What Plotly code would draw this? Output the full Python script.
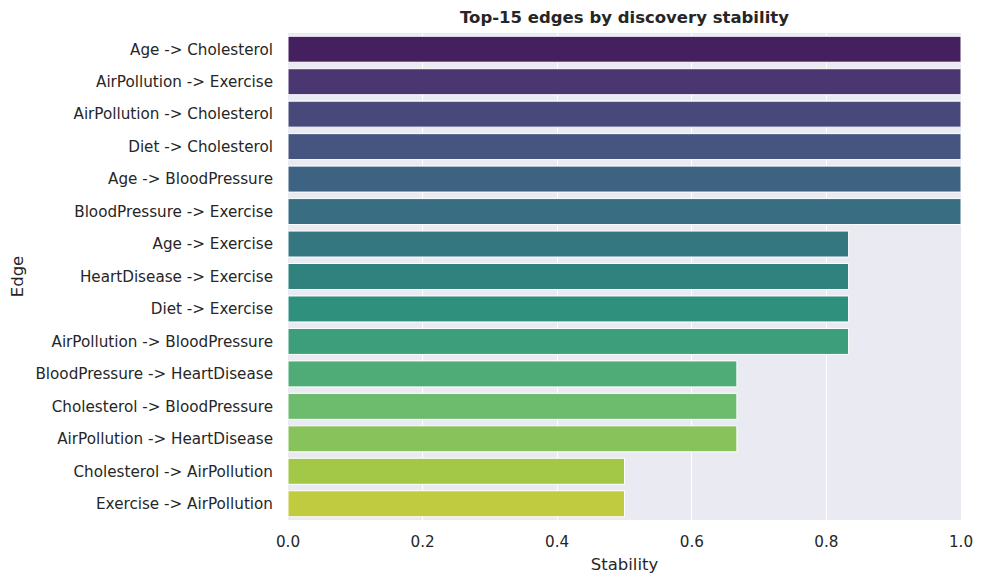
import colorsys
import plotly.graph_objects as pgo
from plotly.colors import sample_colorscale

edges = [
    "Age -> Cholesterol",
    "AirPollution -> Exercise",
    "AirPollution -> Cholesterol",
    "Diet -> Cholesterol",
    "Age -> BloodPressure",
    "BloodPressure -> Exercise",
    "Age -> Exercise",
    "HeartDisease -> Exercise",
    "Diet -> Exercise",
    "AirPollution -> BloodPressure",
    "BloodPressure -> HeartDisease",
    "Cholesterol -> BloodPressure",
    "AirPollution -> HeartDisease",
    "Cholesterol -> AirPollution",
    "Exercise -> AirPollution",
]
stability = [1.0, 1.0, 1.0, 1.0, 1.0, 1.0,
             0.833, 0.833, 0.833, 0.833,
             0.667, 0.667, 0.667,
             0.5, 0.5]
x_ticks = [0.0, 0.2, 0.4, 0.6, 0.8, 1.0]

# seaborn-like viridis palette, desaturated to 0.75
n = len(edges)
raw = sample_colorscale("Viridis", [(i + 1) / (n + 1) for i in range(n)])
colors = []
for c in raw:
    r, g, b = [float(v) / 255 for v in c[c.index("(") + 1:-1].split(",")]
    h, l, s = colorsys.rgb_to_hls(r, g, b)
    r, g, b = colorsys.hls_to_rgb(h, l, s * 0.75)
    colors.append("rgb(%d,%d,%d)" % (round(r * 255), round(g * 255), round(b * 255)))

fig = pgo.Figure()
fig.add_trace(pgo.Bar(
    x=stability, y=edges, orientation="h",
    marker=dict(color=colors, line=dict(color="white", width=1)),
    width=0.8, hoverinfo="skip",
))

# page body has an 8px margin, so the figure is 976x576
W, H = 976, 576
fig.update_layout(
    width=W, height=H,
    margin=dict(l=280, r=23, t=25, b=64),
    paper_bgcolor="white", plot_bgcolor="#EAEAF2",
    font=dict(family="DejaVu Sans", size=15.2, color="#262626"),
    title=dict(text="<b>Top-15 edges by discovery stability</b>",
               x=(280 + W - 23) / 2 / W, xanchor="center",
               y=1 - 9 / H, yanchor="middle",
               font=dict(size=16.5, color="#262626")),
    showlegend=False,
    bargap=0.2,
)
fig.update_xaxes(
    range=[0, 1], tickvals=x_ticks, ticktext=["%.1f" % v for v in x_ticks],
    showgrid=True, gridcolor="white", gridwidth=1, zeroline=False,
    title=dict(text="Stability", standoff=8, font=dict(size=16.5)),
    ticks="", ticklabelstandoff=11, automargin=False,
)
fig.update_yaxes(
    autorange="reversed", categoryorder="array", categoryarray=edges,
    showgrid=False, zeroline=False,
    title=dict(text="Edge", standoff=12, font=dict(size=16.5)),
    ticks="", ticklabelstandoff=14, automargin=False,
)

fig.write_html("out.html")
